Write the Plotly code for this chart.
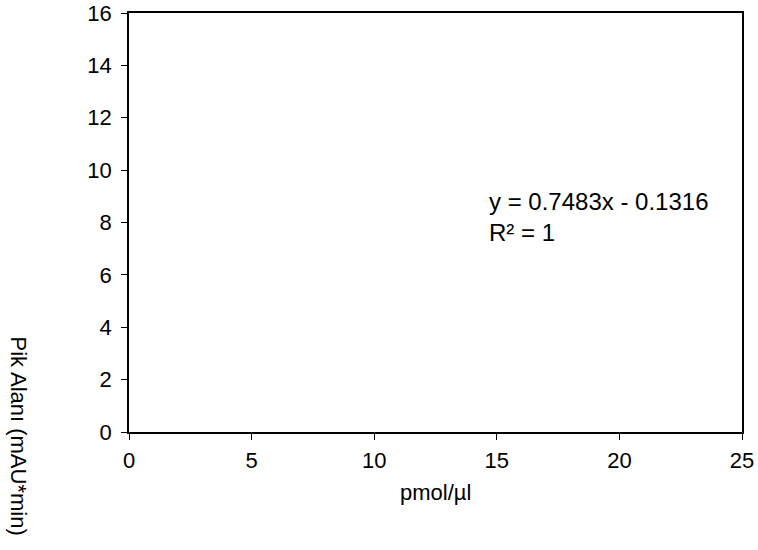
import plotly.graph_objects as go

# Data / labels
x_ticks = [0, 5, 10, 15, 20, 25]
y_ticks = [0, 2, 4, 6, 8, 10, 12, 14, 16]
x_range = [0, 25]
y_range = [0, 16]
slope = 0.7483
intercept = -0.1316
r_squared = 1
x_title = "pmol/µl"
y_title = "Pik Alanı (mAU*min)"

eq_text = f"y = {slope}x - {abs(intercept)}<br>R² = {r_squared}"

FONT = "Liberation Sans, Arial, sans-serif"

fig = go.Figure()
fig.add_trace(go.Scatter(x=[], y=[], mode="markers", showlegend=False))

axis_common = dict(
    showgrid=False, zeroline=False, showline=True, linecolor="black", linewidth=1.5,
    mirror=True, ticks="outside", ticklen=6, tickcolor="black", tickwidth=1.2,
    tickfont=dict(family=FONT, size=22, color="black"),
)

fig.update_xaxes(range=x_range, tickvals=x_ticks, ticklabelstandoff=2, **axis_common)
fig.update_yaxes(range=y_range, tickvals=y_ticks, ticklabelstandoff=5, **axis_common)

L, R, T, B = 129, 16, 13, 118
W, H = 758, 550
pw, ph = W - L - R, H - T - B

fig.add_annotation(text=x_title, xref="paper", yref="paper",
                   x=0.5, y=-(492 - (T + ph)) / ph, xanchor="center", yanchor="middle",
                   showarrow=False, font=dict(family=FONT, size=22, color="black"))

fig.add_annotation(text=y_title, xref="paper", yref="paper", textangle=90,
                   x=(18 - L) / pw, y=((T + ph) - 334) / ph, xanchor="center", yanchor="top",
                   showarrow=False, font=dict(family=FONT, size=22, color="black"))

fig.add_annotation(text=eq_text, xref="paper", yref="paper",
                   x=(487 - L) / pw, y=((T + ph) - 186) / ph, xanchor="left", yanchor="top",
                   align="left", showarrow=False,
                   font=dict(family=FONT, size=24, color="black"))

fig.update_layout(
    width=W, height=H, margin=dict(l=L, r=R, t=T, b=B, autoexpand=False),
    paper_bgcolor="white", plot_bgcolor="white",
)

fig.write_html("out.html")
